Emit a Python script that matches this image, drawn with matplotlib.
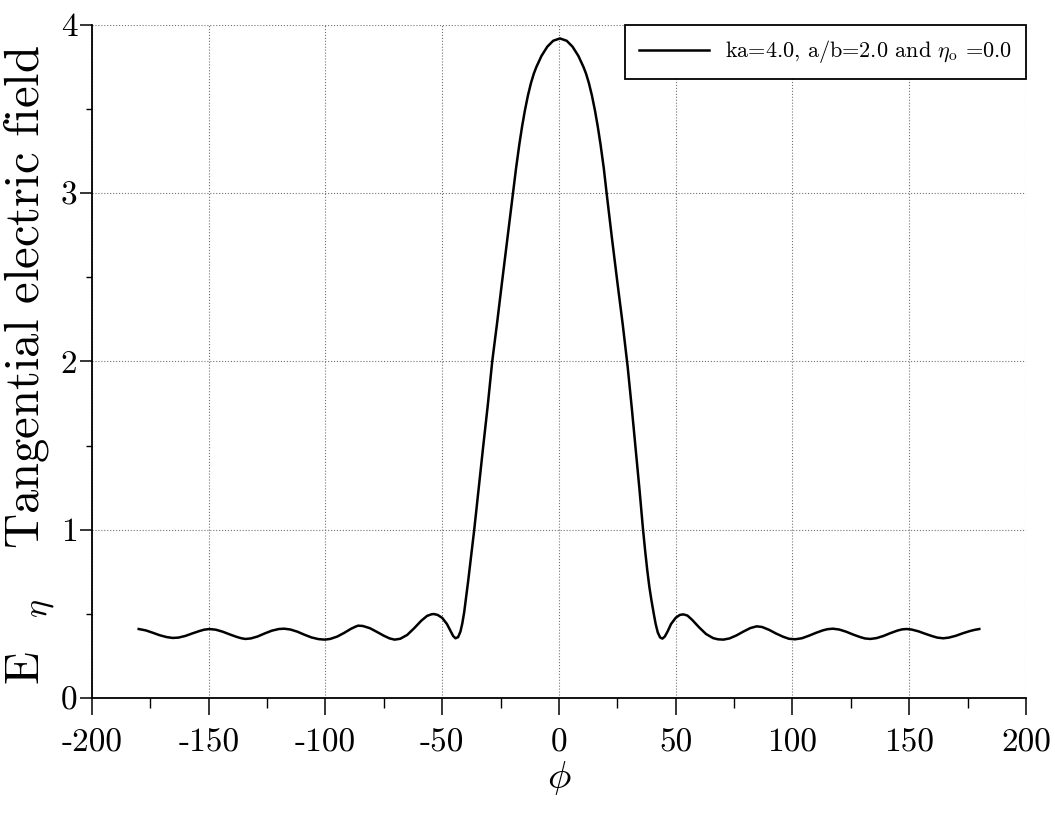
import matplotlib

matplotlib.use("Agg")
import matplotlib.pyplot as plt
from matplotlib.ticker import MultipleLocator

# tangential field E_eta versus phi (degrees)
PHI = [
    -180, -177, -174, -171, -168, -165.4, -163, -160, -157, -154, -152, -149.7,
    -147, -144, -141, -138, -136, -134.3, -132, -129, -126, -123, -120, -117.7,
    -115, -112, -109, -106, -103, -100.3, -98, -95, -92, -89, -87, -86,
    -84, -81, -78, -75, -72.5, -70.4, -68, -65, -62, -59, -56.5, -54.5,
    -53.6, -52, -50, -48, -46.5, -45.3, -44.3, -43.2, -42.2, -41.4, -40.6, -39.8,
    -38.9, -38.0, -37.2, -36.3, -34.4, -32.5, -30.5, -28.6, -26.5, -24.5, -22, -19.7,
    -18.4, -17, -15.8, -14.6, -13.3, -12, -10.8, -9.7, -7.5, -5, -2.5, 0.4,
    3.3, 5.8, 8.3, 10.5, 11.6, 12.8, 14.1, 15.4, 16.6, 17.8, 19.2, 20.4,
    22.7, 25.1, 27.3, 29.4, 31.2, 32.9, 34.5, 36.0, 36.9, 37.8, 38.7, 39.6,
    40.6, 41.4, 42.3, 43.3, 44.3, 45.3, 46.5, 48, 50, 51.8, 53.3, 55,
    57, 60, 63, 66, 68, 70.4, 73, 76, 79, 82, 84.7, 87,
    90, 93, 96, 98.5, 101.1, 104, 107, 110, 113, 115, 117.3, 120,
    123, 126, 129, 131, 133.3, 136, 139, 142, 145, 147, 148.9, 151,
    154, 157, 160, 162, 164.6, 167, 170, 173, 176, 178, 180,
]
E_ETA = [
    0.410, 0.402, 0.388, 0.373, 0.362, 0.357, 0.359, 0.369, 0.384, 0.398, 0.406, 0.410,
    0.406, 0.394, 0.378, 0.363, 0.355, 0.351, 0.354, 0.366, 0.384, 0.400, 0.410, 0.412,
    0.407, 0.394, 0.376, 0.360, 0.350, 0.347, 0.351, 0.365, 0.387, 0.412, 0.425, 0.430,
    0.428, 0.415, 0.393, 0.370, 0.354, 0.347, 0.352, 0.375, 0.415, 0.459, 0.488, 0.498,
    0.499, 0.494, 0.476, 0.440, 0.400, 0.368, 0.355, 0.362, 0.395, 0.444, 0.510, 0.595,
    0.695, 0.800, 0.895, 1.000, 1.245, 1.490, 1.740, 2.000, 2.230, 2.460, 2.740, 3.000,
    3.147, 3.289, 3.397, 3.492, 3.581, 3.655, 3.710, 3.750, 3.816, 3.871, 3.906, 3.920,
    3.906, 3.871, 3.816, 3.750, 3.710, 3.655, 3.581, 3.492, 3.397, 3.289, 3.147, 3.000,
    2.730, 2.460, 2.220, 1.970, 1.720, 1.470, 1.235, 1.000, 0.875, 0.760, 0.660, 0.580,
    0.500, 0.440, 0.390, 0.360, 0.353, 0.365, 0.395, 0.440, 0.477, 0.494, 0.497, 0.490,
    0.465, 0.420, 0.380, 0.356, 0.349, 0.347, 0.354, 0.372, 0.395, 0.416, 0.426, 0.422,
    0.405, 0.383, 0.364, 0.352, 0.349, 0.355, 0.370, 0.387, 0.402, 0.409, 0.412, 0.407,
    0.394, 0.377, 0.362, 0.354, 0.351, 0.356, 0.369, 0.386, 0.401, 0.408, 0.410, 0.407,
    0.396, 0.381, 0.367, 0.359, 0.355, 0.359, 0.370, 0.385, 0.398, 0.405, 0.410,
]
LEGEND_LABEL = r"ka=4.0, a/b=2.0 and $\eta_{\rm o}$ =0.0"

plt.rcParams["font.family"] = "serif"
plt.rcParams["font.serif"] = ["cmr10", "DejaVu Serif"]
plt.rcParams["mathtext.fontset"] = "cm"
plt.rcParams["axes.unicode_minus"] = False
plt.rcParams["axes.formatter.use_mathtext"] = False

fig = plt.figure(figsize=(10.55, 8.16), dpi=100)
ax = fig.add_axes([0.0872, 0.1446, 0.8853, 0.8248])

ax.plot(PHI, E_ETA, color="black", linewidth=1.8, label=LEGEND_LABEL)

ax.set_xlim(-200, 200)
ax.set_ylim(0, 4)
ax.xaxis.set_major_locator(MultipleLocator(50))
ax.xaxis.set_minor_locator(MultipleLocator(25))
ax.yaxis.set_major_locator(MultipleLocator(1))
ax.yaxis.set_minor_locator(MultipleLocator(0.5))

ax.spines["top"].set_visible(False)
ax.spines["right"].set_visible(False)
for side in ("left", "bottom"):
    ax.spines[side].set_linewidth(1.3)

ax.tick_params(axis="x", which="major", direction="out", length=12, width=1.1,
               labelsize=24, pad=10)
ax.tick_params(axis="x", which="minor", direction="out", length=7, width=1.0)
ax.tick_params(axis="y", which="major", direction="out", length=8.5, width=1.1,
               labelsize=24, pad=2)
ax.tick_params(axis="y", which="minor", direction="out", length=4, width=1.0)

ax.grid(True, which="major", linestyle=":", color="0.45", linewidth=0.8)
ax.set_axisbelow(True)

ax.set_xlabel(r"$\phi$", fontsize=28)
ax.xaxis.set_label_coords(0.5, -0.09)
ax.set_ylabel(r"E  $_{\eta}$   Tangential electric field", fontsize=35)
ax.yaxis.set_label_coords(-0.037, 0.495)

leg = ax.legend(loc="upper right", borderaxespad=0.0, fontsize=16,
                handlelength=3.15, handletextpad=0.75, fancybox=False,
                framealpha=1.0, borderpad=0.6)
leg.get_frame().set_edgecolor("black")
leg.get_frame().set_linewidth(1.3)

fig.savefig("out.png", dpi=100)
